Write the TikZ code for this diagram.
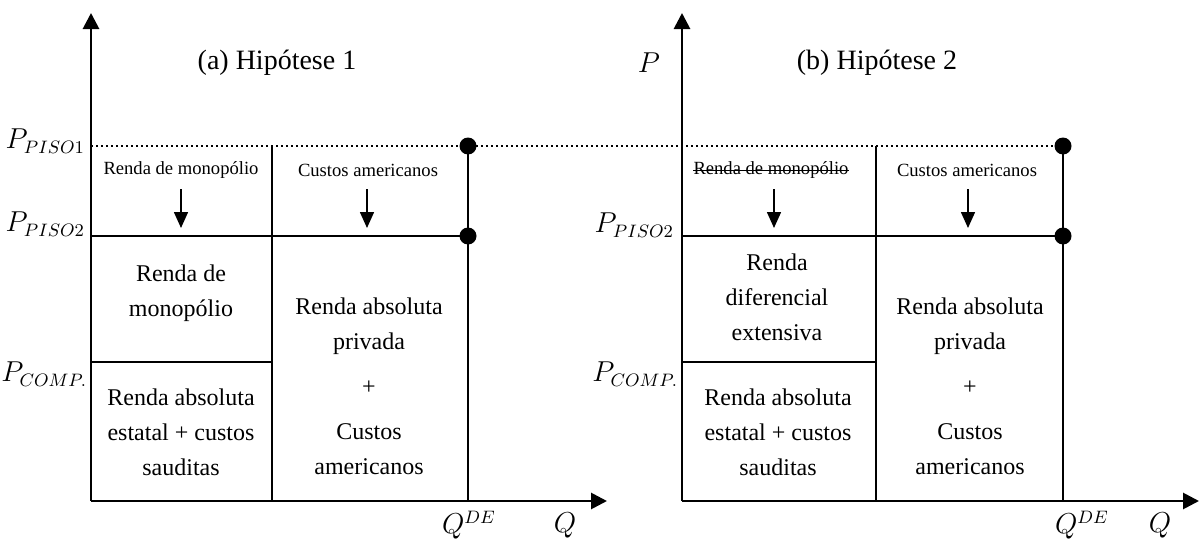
\documentclass[tikz,border=0pt]{standalone}
\usepackage{fontspec}
\setmainfont{Liberation Serif}
\usetikzlibrary{arrows.meta}

\begin{document}
\begin{tikzpicture}[x=0.5pt,y=-0.5pt,
  axis/.style={line width=1.4pt,-{Triangle[width=8pt,length=8pt]}},
  bound/.style={line width=1.1pt},
  cell/.style={line width=0.6pt},
  drop/.style={line width=0.8pt,-{Triangle[width=7pt,length=8pt]}},
  dot/.style={circle,fill,inner sep=0pt,minimum size=8.5pt},
  title/.style={font=\fontsize{14}{16}\selectfont},
  small/.style={font=\fontsize{9.3}{11}\selectfont},
  big/.style={align=center,font=\fontsize{12}{17.5}\selectfont},
  lab/.style={font=\fontsize{13.5}{15}\selectfont}]
  \useasboundingbox (0,0) rectangle (1201,546);

  % Coordinates
  \coordinate (Oa) at (91,501);
  \coordinate (Ya) at (91,13);
  \coordinate (Xa) at (607,501);
  \coordinate (Ob) at (682,501);
  \coordinate (Yb) at (682,13);
  \coordinate (Xb) at (1199,501);
  \coordinate (Pa1) at (91,146);
  \coordinate (Pa2) at (91,236);
  \coordinate (Pa3) at (91,362);
  \coordinate (Pb2) at (682,236);
  \coordinate (Pb3) at (682,362);
  \coordinate (Da1) at (272,146);
  \coordinate (Da0) at (272,501);
  \coordinate (Db1) at (876,146);
  \coordinate (Db0) at (876,501);
  \coordinate (Db3) at (876,362);
  \coordinate (Da3) at (272,362);
  \coordinate (Qa0) at (468,501);
  \coordinate (Qb0) at (1063,501);
  \coordinate (Ma1) at (181,189);
  \coordinate (Ma2) at (181,228);
  \coordinate (Ca1) at (367,189);
  \coordinate (Ca2) at (367,228);
  \coordinate (Mb1) at (774,189);
  \coordinate (Mb2) at (774,228);
  \coordinate (Cb1) at (968,189);
  \coordinate (Cb2) at (968,228);

  % Dots
  \node[dot] (qa1) at (468,146) {};
  \node[dot] (qa2) at (468,236) {};
  \node[dot] (qb1) at (1063,146) {};
  \node[dot] (qb2) at (1063,236) {};

  % Drawing
  \draw[line width=1.1pt,dash pattern=on 1.1pt off 1.4pt] (Pa1) -- (qb1.center);
  \draw[cell] (Da1) -- (Da0);
  \draw[cell] (Db1) -- (Db0);
  \draw[cell] (Pa3) -- (Da3);
  \draw[cell] (Pb3) -- (Db3);
  \draw[bound] (Pa2) -- (qa2.center);
  \draw[bound] (Pb2) -- (qb2.center);
  \draw[bound] (qa1.center) -- (Qa0);
  \draw[bound] (qb1.center) -- (Qb0);
  \draw[axis] (Oa) -- (Ya);
  \draw[axis] (Oa) -- (Xa);
  \draw[axis] (Ob) -- (Yb);
  \draw[axis] (Ob) -- (Xb);
  \draw[drop] (Ma1) -- (Ma2);
  \draw[drop] (Ca1) -- (Ca2);
  \draw[drop] (Mb1) -- (Mb2);
  \draw[drop] (Cb1) -- (Cb2);

  % Labels
  \node[title] (ta) at (277,63) {(a) Hipótese 1};
  \node[title] (tb) at (877,63) {(b) Hipótese 2};
  \node[lab] (pb) at (649,63) {$P$};
  \node[lab,anchor=east] (pa1) at (92,141) {$P_{PISO1}$};
  \node[lab,anchor=east] (pa2) at (92,224) {$P_{PISO2}$};
  \node[lab,anchor=east] (pa3) at (94,374) {$P_{COMP.}$};
  \node[lab,anchor=east] (pb2) at (681,225) {$P_{PISO2}$};
  \node[lab,anchor=east] (pb3) at (685,374) {$P_{COMP.}$};
  \node[lab] (qa) at (469,525) {$Q^{DE}$};
  \node[lab] (xa) at (565,525) {$Q$};
  \node[lab] (qb) at (1082,525) {$Q^{DE}$};
  \node[lab] (xb) at (1160,525) {$Q$};

  \node[small] (ma) at (181,170) {Renda de monopólio};
  \node[small] (ca) at (368,170) {Custos americanos};
  \node[small,inner sep=0pt] (mb) at (771,170) {Renda de monopólio};
  \draw[line width=0.5pt] ([yshift=-0.3pt]mb.west) -- ([yshift=-0.3pt]mb.east);
  \node[small] (cb) at (967,170) {Custos americanos};

  \node[big] (ra1) at (181,293) {Renda de\\monopólio};
  \node[big] (ra2) at (181,432) {Renda absoluta\\estatal + custos\\sauditas};
  \node[big] (ra3) at (369,386) {Renda absoluta\\privada\\[5pt]+\\[5pt]Custos\\americanos};
  \node[big] (rb1) at (777,297) {Renda\\diferencial\\extensiva};
  \node[big] (rb2) at (778,432) {Renda absoluta\\estatal + custos\\sauditas};
  \node[big] (rb3) at (970,386) {Renda absoluta\\privada\\[5pt]+\\[5pt]Custos\\americanos};
\end{tikzpicture}
\end{document}
